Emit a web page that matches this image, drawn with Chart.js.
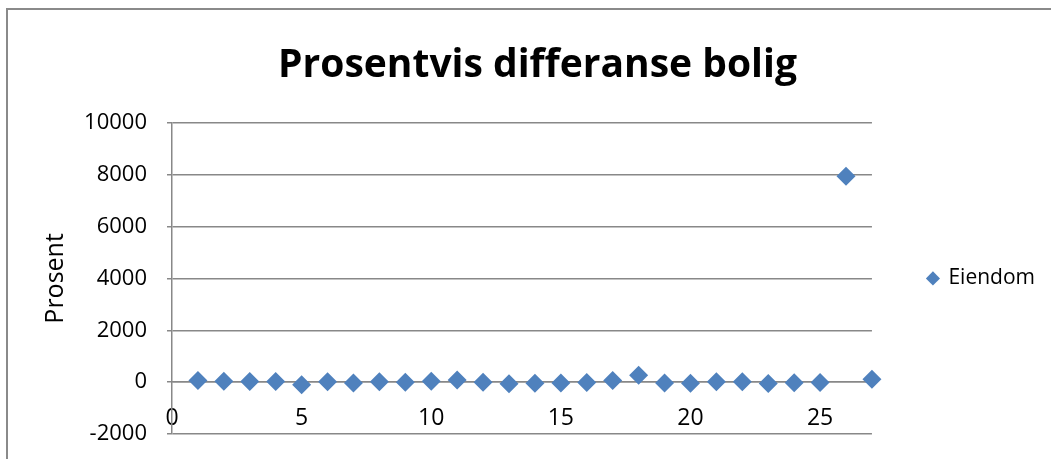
<!DOCTYPE html>
<html lang="no">
<head>
<meta charset="utf-8">
<title>Prosentvis differanse bolig</title>
<script src="https://cdn.jsdelivr.net/npm/chart.js@4.4.1/dist/chart.umd.min.js"></script>
<style>
  html, body { margin: 0; padding: 0; background: #ffffff; }
  #wrap { position: relative; width: 1051px; height: 459px; overflow: hidden; }
  #frame {
    position: absolute; left: 6px; top: 8px; width: 1100px; height: 500px;
    border-top: 2px solid #8a8a8a; border-left: 2px solid #8a8a8a;
  }
  #chart { position: absolute; left: 0; top: 0; }
</style>
</head>
<body>
<div id="wrap">
  <div id="frame"></div>
  <canvas id="chart" width="1051" height="459"></canvas>
</div>
<script>
// Observasjonsnummer (x) og prosentvis differanse for eiendom (y)
const observasjoner = [1, 2, 3, 4, 5, 6, 7, 8, 9, 10, 11, 12, 13, 14, 15, 16, 17, 18, 19, 20, 21, 22, 23, 24, 25, 26, 27];
const eiendom = [60, 30, 20, 20, -100, 10, -30, 10, 0, 30, 80, 0, -60, -40, -30, -10, 60, 270, -30, -40, 10, 10, -50, -20, -10, 7940, 115];
const seriesNavn = 'Eiendom';
const tittel = 'Prosentvis differanse bolig';
const yTittel = 'Prosent';

const punkter = observasjoner.map((x, i) => ({ x: x, y: eiendom[i] }));

const gra = '#888888';
const bla = '#4F81BD';
const skrift = 'Open Sans';

new Chart(document.getElementById('chart'), {
  type: 'scatter',
  data: {
    datasets: [{
      label: seriesNavn,
      data: punkter,
      pointStyle: 'rectRot',
      pointRadius: 9.5,
      pointHoverRadius: 9.5,
      backgroundColor: bla,
      borderColor: bla,
      borderWidth: 0,
      clip: false
    }]
  },
  options: {
    responsive: false,
    animation: false,
    events: [],
    layout: { padding: { left: 30, right: 6, top: 0, bottom: 25 } },
    plugins: {
      title: {
        display: true,
        text: tittel,
        color: '#000000',
        font: { family: skrift, size: 39, weight: 'bold' },
        padding: { top: 42, bottom: 34 }
      },
      legend: {
        position: 'right',
        fullSize: false,
        labels: {
          usePointStyle: true,
          pointStyle: 'rectRot',
          boxHeight: 10,
          boxWidth: 10,
          padding: 56,
          color: '#000000',
          font: { family: skrift, size: 21 }
        }
      },
      tooltip: { enabled: false }
    },
    scales: {
      x: {
        type: 'linear',
        position: { y: 0 },
        min: 0,
        max: 27,
        afterBuildTicks: (scale) => {
          scale.ticks = scale.ticks.filter(t => t.value % 5 === 0);
        },
        ticks: {
          stepSize: 5,
          padding: 23,
          color: '#000000',
          font: { family: skrift, size: 23 },
          callback: (v) => String(v)
        },
        grid: { display: false, drawTicks: false },
        border: { display: true, color: gra, width: 1.5 }
      },
      y: {
        type: 'linear',
        position: 'left',
        min: -2000,
        max: 10000,
        afterFit: (scale) => {
          scale.width = 142;
          scale.paddingTop = 0;
          scale.paddingBottom = 0;
        },
        ticks: {
          stepSize: 2000,
          padding: 20,
          color: '#000000',
          font: { family: skrift, size: 22 },
          callback: (v) => String(v)
        },
        grid: { color: gra, lineWidth: 1.5, tickLength: 5, drawTicks: true },
        border: { display: true, color: gra, width: 1.5 },
        title: {
          display: true,
          text: yTittel,
          color: '#000000',
          font: { family: skrift, size: 25 },
          padding: { top: 11, bottom: 0 }
        }
      }
    }
  }
});
</script>
</body>
</html>
